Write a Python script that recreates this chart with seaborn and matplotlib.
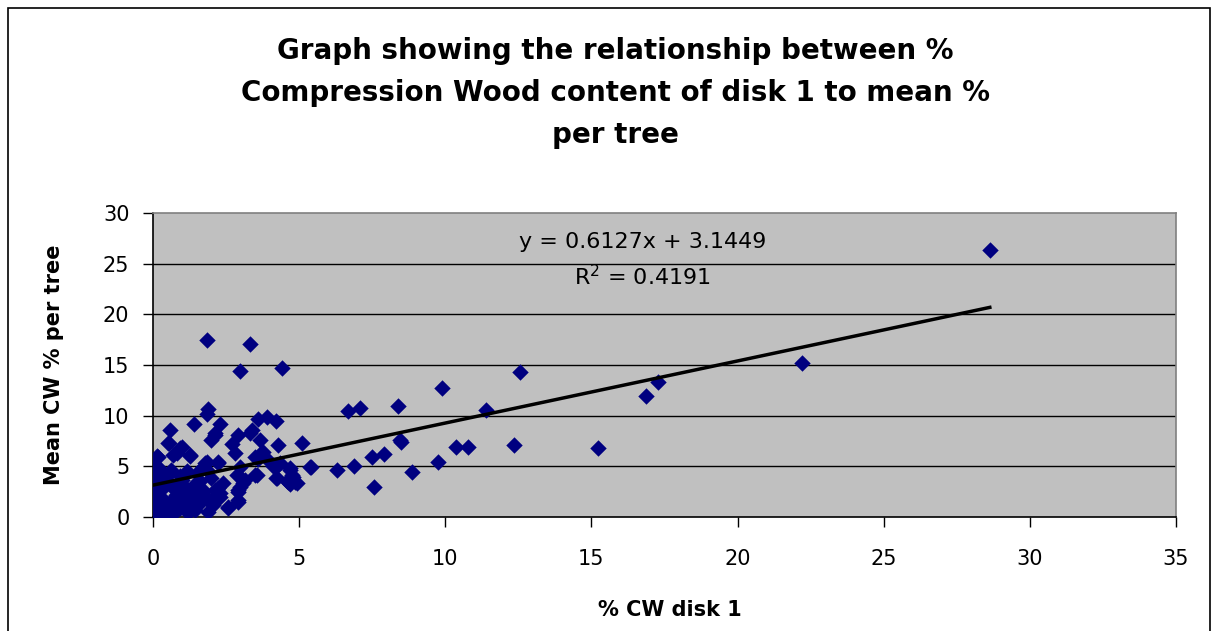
import numpy as np
import pandas as pd
import matplotlib.pyplot as plt
import seaborn as sns
from matplotlib.patches import Rectangle

# % compression wood in disk 1 (x) and mean % per tree (y)
cw_disk1 = [
    1.84, 3.32, 2.98, 4.42, 1.89, 1.84, 3.60, 3.89, 4.20, 0.58,
    1.41, 2.29, 3.38, 3.32, 2.92, 2.12, 2.00, 3.66, 0.56, 2.69,
    4.29, 5.11, 0.92, 0.69, 1.27, 2.80, 0.15, 3.77, 3.49, 3.60,
    1.84, 2.23, 1.72, 4.34, 4.09, 5.39, 4.69, 4.75, 4.92, 4.63,
    4.21, 3.49, 2.98, 3.09, 2.92, 2.92, 2.58,
    0.05, 0.00, 0.10, 0.05, 0.00, 0.10, 0.05, 0.10, 0.00,
    12.55, 9.89, 6.68, 7.09, 8.39, 11.40, 8.45, 8.47, 10.37, 10.79,
    12.36, 7.50, 7.91, 5.37, 6.28, 6.87, 9.76, 8.87, 7.57, 4.60,
    4.80, 4.70, 4.85,
    15.23, 16.87, 17.27, 22.20, 28.63,
    3.70, 3.93, 4.28, 4.69, 2.98, 2.86, 3.15, 3.55, 4.23, 2.24,
    2.29, 2.98, 2.92, 2.92, 2.58,
    2.12, 0.50, 0.98, 0.81, 1.27, 0.17, 1.78, 2.22, 1.84, 0.17,
    0.17, 0.17, 0.17, 0.17, 0.17, 0.98, 1.44, 2.00, 0.64, 1.09,
    1.66, 2.12, 0.64, 1.21, 1.55, 2.00, 0.52, 0.92, 1.44, 1.89,
    0.41, 2.05, 2.30, 1.60, 0.92, 0.58, 1.27, 0.30, 0.80, 1.10,
    1.35, 1.70, 0.45, 0.75, 1.05, 1.50, 2.40, 0.35, 1.20, 1.95,
    0.25, 0.60, 1.00, 1.40, 0.20, 0.85, 1.15, 1.75, 0.40, 0.70,
]
cw_mean = [
    17.5, 17.1, 14.4, 14.7, 10.7, 10.2, 9.7, 9.85, 9.5, 8.6,
    9.2, 9.2, 8.6, 8.26, 8.1, 8.1, 7.6, 7.6, 7.27, 7.17,
    7.1, 7.27, 6.84, 6.1, 6.0, 6.3, 6.0, 6.45, 5.95, 5.7,
    5.46, 5.36, 4.97, 5.3, 5.06, 4.9, 4.64, 4.15, 3.33, 3.49,
    3.82, 4.15, 3.98, 3.33, 2.67, 1.51, 0.92,
    0.2, 0.4, 1.3, 2.1, 2.6, 3.8, 4.4, 5.0, 5.5,
    14.3, 12.7, 10.5, 10.8, 10.96, 10.6, 7.6, 7.4, 6.94, 6.94,
    7.1, 5.89, 6.18, 4.94, 4.6, 5.06, 5.4, 4.4, 3.0, 3.6,
    3.9, 3.3, 3.5,
    6.84, 11.9, 13.36, 15.2, 26.3,
    6.3, 5.6, 5.1, 4.8, 4.9, 4.15, 3.65, 4.15, 3.8, 2.85,
    2.37, 3.0, 2.5, 1.7, 1.0,
    8.3, 7.3, 6.9, 6.3, 6.1, 5.95, 5.3, 5.45, 4.64, 4.6,
    3.7, 2.7, 1.7, 0.7, 0.1, 3.65, 3.3, 3.8, 3.0, 2.5,
    2.5, 2.67, 1.7, 1.5, 1.18, 1.68, 0.7, 0.86, 0.7, 0.52,
    0.03, 1.2, 2.0, 3.6, 4.0, 3.35, 2.4, 1.9, 2.2, 1.3,
    2.9, 2.2, 3.9, 1.1, 3.1, 4.3, 3.4, 2.9, 0.4, 1.5,
    3.2, 4.6, 1.9, 1.9, 4.8, 2.7, 4.5, 2.6, 1.0, 0.3,
]

# fitted trend line shown on the chart
slope = 0.6127
intercept = 3.1449
r_squared = 0.4191

x_ticks = [0, 5, 10, 15, 20, 25, 30, 35]
y_ticks = [0, 5, 10, 15, 20, 25, 30]

df = pd.DataFrame({'disk1': cw_disk1, 'mean': cw_mean})

plt.rcParams['font.family'] = ['DejaVu Sans']

fig = plt.figure(figsize=(12.18, 6.31), dpi=100)
ax = fig.add_axes([153 / 1218, 1 - 517 / 631, (1176 - 153) / 1218, (517 - 213) / 631])
ax.set_facecolor('#C0C0C0')

for yt in y_ticks[1:-1]:
    ax.axhline(yt, color='black', lw=1, zorder=1)

sns.scatterplot(data=df, x='disk1', y='mean', marker='D', s=70,
                color='#000080', edgecolor='#000080', linewidth=0, ax=ax, zorder=3)

xs = np.array([df['disk1'].min(), df['disk1'].max()])
sns.lineplot(x=xs, y=slope * xs + intercept, color='black', lw=2.5, ax=ax, zorder=4)

ax.text(16.75, 27.1, f'y = {slope}x + {intercept}', ha='center', va='center', fontsize=16)
ax.text(16.75, 23.7, f'R$^2$ = {r_squared}', ha='center', va='center', fontsize=16)

ax.set_xlim(0, 35)
ax.set_ylim(0, 30)
ax.set_xticks(x_ticks)
ax.set_yticks(y_ticks)
ax.tick_params(axis='x', length=7, width=1, pad=16, labelsize=15)
ax.tick_params(axis='y', length=7, width=1, pad=10, labelsize=15)

ax.spines['left'].set_color('black')
ax.spines['bottom'].set_color('black')
ax.spines['top'].set_color('#808080')
ax.spines['right'].set_color('#808080')
for s in ax.spines.values():
    s.set_linewidth(1.2)

ax.set_xlabel('% CW disk 1', fontsize=15, fontweight='bold')
ax.set_ylabel('Mean CW % per tree', fontsize=15, fontweight='bold')
ax.xaxis.set_label_coords(0.505, -0.273)
ax.yaxis.set_label_coords(-0.087, 0.5)

fig.text(0.505, 1 - 93 / 631,
         'Graph showing the relationship between %\n'
         'Compression Wood content of disk 1 to mean %\n'
         'per tree',
         ha='center', va='center', fontsize=20, fontweight='bold', linespacing=1.65)

fig.add_artist(Rectangle((8 / 1218, -0.01), 1202 / 1218, 1 - 8 / 631 + 0.01,
                         transform=fig.transFigure, fill=False, ec='black', lw=1.2))

fig.savefig('out.png', dpi=100)
